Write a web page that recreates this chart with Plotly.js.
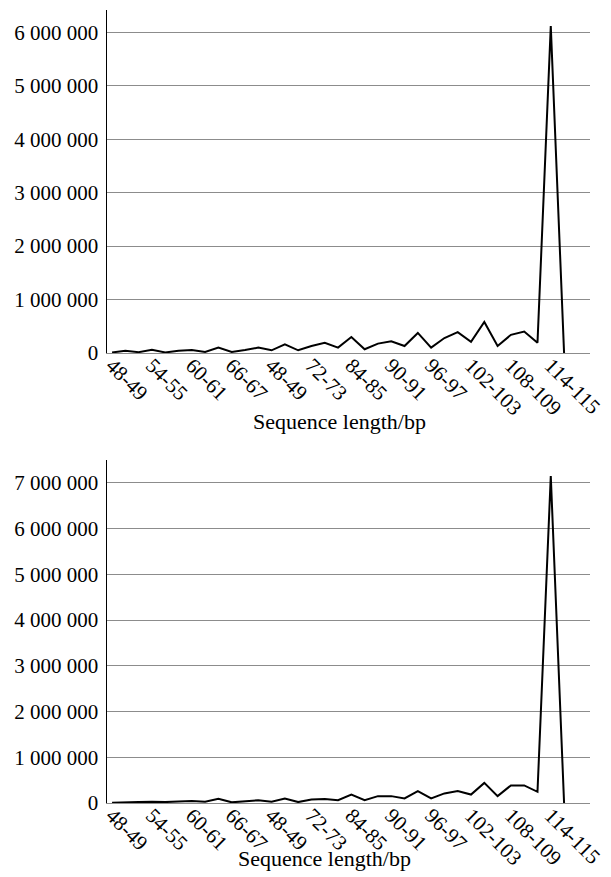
<!DOCTYPE html>
<html>
<head>
<meta charset="utf-8">
<script src="https://cdn.plot.ly/plotly-3.0.1.min.js"></script>
<style>html,body{margin:0;padding:0;background:#fff;}#chart{width:611px;height:877px;}</style>
</head>
<body>
<div id="chart"></div>
<script>
// Length classes (bp), one per point
const categories = ["48-49","50-51","52-53","54-55","56-57","58-59","60-61","62-63","64-65","66-67",
  "68-69","70-71","72-73","74-75","76-77","78-79","80-81","82-83","84-85","86-87",
  "88-89","90-91","92-93","94-95","96-97","98-99","100-101","102-103","104-105","106-107",
  "108-109","110-111","112-113","114-115","116-117"];
// Tick labels as printed in the original (every third class)
const tickCategories = ["48-49","54-55","60-61","66-67","72-73","78-79","84-85","90-91","96-97","102-103","108-109","114-115"];
const tickLabels = ["48-49","54-55","60-61","66-67","48-49","72-73","84-85","90-91","96-97","102-103","108-109","114-115"];
const xTitle = "Sequence length/bp";
// Read counts, upper panel
const countsTop = [10000,40000,15000,60000,10000,40000,55000,20000,100000,20000,
  55000,100000,50000,160000,50000,130000,190000,100000,300000,70000,
  175000,220000,130000,375000,100000,280000,390000,210000,580000,130000,
  340000,400000,190000,6120000,0];
// Read counts, lower panel
const countsBottom = [5000,20000,20000,30000,20000,35000,45000,30000,90000,15000,
  45000,60000,30000,100000,20000,75000,90000,60000,185000,60000,
  150000,150000,100000,260000,100000,210000,260000,185000,440000,150000,
  385000,385000,245000,7150000,0];

const tickFont = {family: "Liberation Serif", size: 21, color: "#000"};
const titleFont = {family: "Liberation Serif", size: 22, color: "#000"};
const lineStyle = {color: "#000", width: 2};

function xAxis(anchor) {
  return {
    type: "category", categoryorder: "array", categoryarray: categories,
    range: [-0.38, 35.95], anchor: anchor,
    tickmode: "array", tickvals: tickCategories, ticktext: tickLabels, tickangle: 45,
    showgrid: false, zeroline: false, showline: true, linecolor: "#8c8c8c", linewidth: 1,
    ticks: "", tickfont: tickFont, ticklabelstandoff: -9
  };
}
function yAxis(anchor, domain, top) {
  return {
    domain: domain, anchor: anchor, range: [0, top], dtick: 1000000, tickformat: ",d",
    showgrid: true, gridcolor: "#8c8c8c", gridwidth: 1, zeroline: false,
    showline: true, linecolor: "#000", linewidth: 1.5, ticks: "", ticklabelstandoff: 3,
    tickfont: tickFont
  };
}

const data = [
  {x: categories, y: countsTop, type: "scatter", mode: "lines", line: lineStyle, xaxis: "x", yaxis: "y", showlegend: false},
  {x: categories, y: countsBottom, type: "scatter", mode: "lines", line: lineStyle, xaxis: "x2", yaxis: "y2", showlegend: false}
];

const layout = {
  width: 611, height: 877,
  margin: {l: 107, r: 21, t: 10, b: 74},
  paper_bgcolor: "#fff", plot_bgcolor: "#fff",
  separators: ". ",
  font: tickFont,
  xaxis: xAxis("y"),
  yaxis: yAxis("x", [0.5675, 1], 6420000),
  xaxis2: xAxis("y2"),
  yaxis2: yAxis("x2", [0, 0.4325], 7500000),
  annotations: [
    {text: xTitle, xref: "paper", yref: "paper", x: 0.481, y: 0.4805, xanchor: "center", yanchor: "middle", showarrow: false, font: titleFont},
    {text: xTitle, xref: "paper", yref: "paper", x: 0.450, y: -0.0706, xanchor: "center", yanchor: "middle", showarrow: false, font: titleFont}
  ]
};

Plotly.newPlot("chart", data, layout, {displayModeBar: false, staticPlot: true});
</script>
</body>
</html>
